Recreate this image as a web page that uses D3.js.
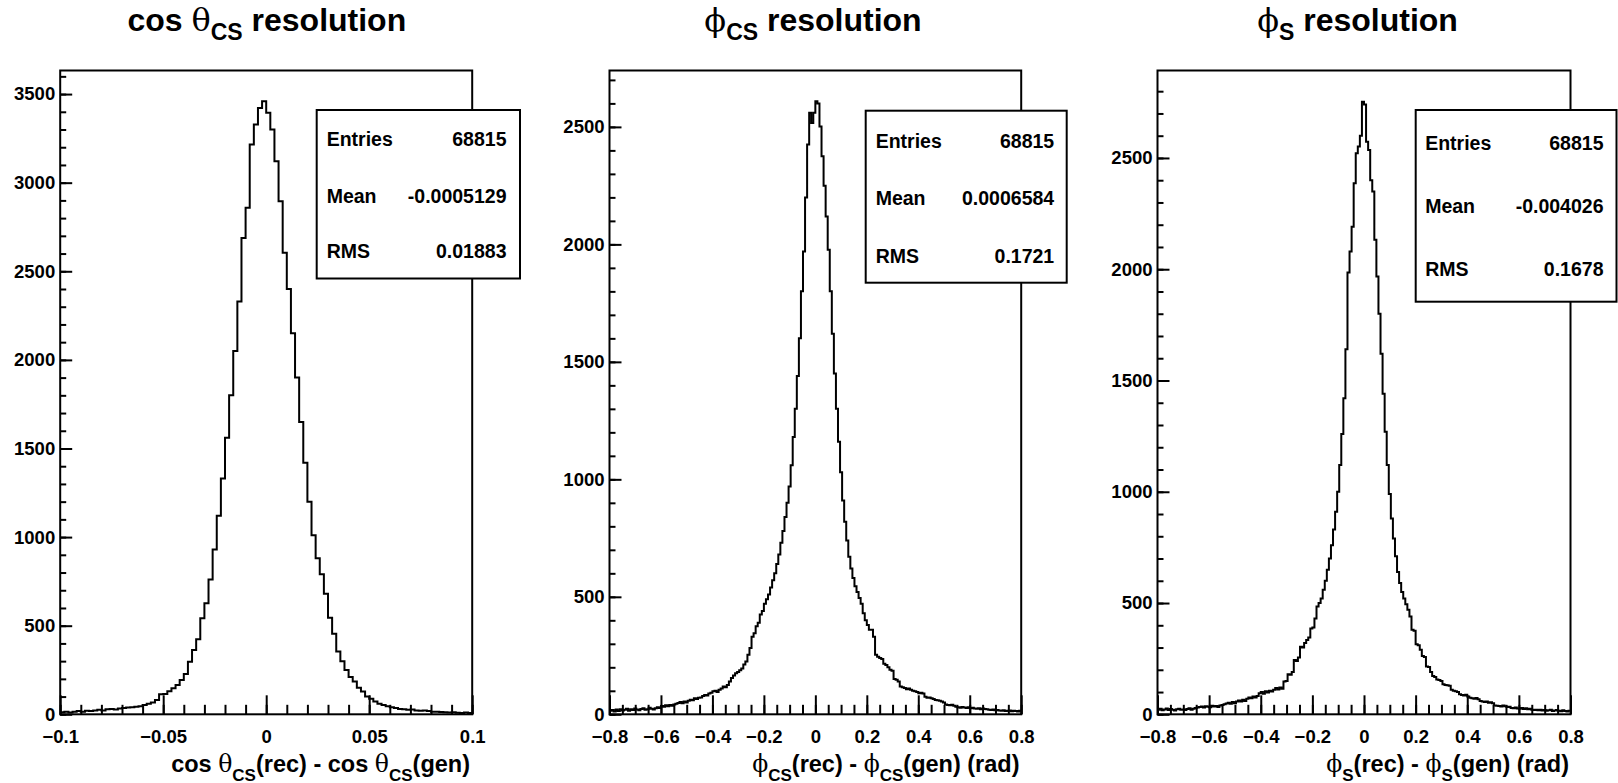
<!DOCTYPE html>
<html><head><meta charset="utf-8">
<script src="https://cdn.jsdelivr.net/npm/d3@7"></script>
<style>
body{margin:0;background:#fff}
svg{display:block}
text{font-family:"Liberation Sans",Arial,Helvetica,sans-serif;font-weight:bold;fill:#000}
</style>
</head><body>
<svg id="chart" width="1618" height="783"></svg>
<script>
// ---------------- data ----------------
const cosThetaRange = [-0.1, 0.1];
const cosThetaCounts = [
  12, 15, 10, 14, 18, 15, 20, 18, 22, 25,
  22, 28, 30, 27, 33, 36, 38, 40, 42, 45,
  53, 60, 66, 81, 113, 115, 130, 147, 166, 194,
  228, 297, 363, 424, 542, 627, 760, 930, 1120, 1330,
  1560, 1800, 2050, 2330, 2688, 2858, 3215, 3328, 3422, 3460,
  3394, 3300, 3121, 2895, 2604, 2400, 2150, 1900, 1650, 1420,
  1200, 1010, 880, 790, 680, 545, 455, 355, 300, 250,
  210, 185, 150, 128, 100, 88, 72, 60, 53, 45,
  40, 35, 30, 28, 26, 27, 22, 20, 21, 18,
  15, 14, 13, 12, 10, 11, 9, 8, 10, 7
];
const phiRange = [-0.8, 0.8];
const phiCSCounts = [
  15, 18, 12, 20, 14, 22, 16, 19, 24, 15,
  21, 18, 25, 20, 17, 23, 26, 19, 22, 28,
  24, 20, 26, 30, 27, 35, 32, 38, 34, 40,
  36, 42, 45, 48, 52, 47, 55, 50, 58, 62,
  60, 68, 65, 70, 72, 78, 82, 80, 88, 92,
  98, 100, 95, 105, 110, 118, 115, 125, 140, 154,
  165, 175, 180, 188, 195, 212, 225, 253, 282, 330,
  345, 375, 390, 425, 440, 470, 490, 510, 540, 570,
  600, 640, 680, 730, 780, 840, 900, 970, 1060, 1180,
  1300, 1440, 1600, 1800, 1970, 2200, 2425, 2560, 2517, 2560,
  2609, 2600, 2502, 2375, 2250, 2119, 1977, 1800, 1620, 1450,
  1300, 1160, 1030, 910, 820, 740, 670, 620, 580, 545,
  520, 495, 470, 430, 400, 380, 360, 360, 330, 253,
  245, 240, 235, 215, 210, 200, 190, 185, 150, 147,
  140, 118, 115, 112, 107, 110, 104, 100, 98, 95,
  90, 92, 88, 75, 70, 72, 68, 65, 61, 60,
  58, 55, 50, 42, 40, 38, 41, 36, 32, 30,
  28, 31, 29, 27, 30, 26, 28, 25, 24, 26,
  22, 25, 23, 21, 19, 18, 20, 17, 18, 16,
  15, 17, 14, 15, 16, 13, 15, 14, 12, 15
];
const phiSCounts = [
  20, 25, 18, 22, 26, 19, 24, 21, 17, 23,
  25, 20, 22, 19, 24, 27, 21, 25, 28, 30,
  33, 35, 31, 36, 34, 32, 38, 35, 37, 33,
  40, 42, 45, 48, 52, 47, 55, 50, 58, 62,
  57, 65, 60, 70, 75, 72, 80, 76, 82, 95,
  100, 92, 104, 98, 106, 102, 110, 118, 112, 120,
  115, 147, 150, 180, 178, 190, 244, 240, 255, 304,
  300, 320, 334, 345, 386, 390, 430, 484, 500, 520,
  560, 600, 650, 700, 760, 830, 910, 1000, 1120, 1260,
  1420, 1640, 1985, 2080, 2191, 2386, 2521, 2551, 2600, 2753,
  2740, 2573, 2536, 2400, 2349, 2132, 1967, 1800, 1620, 1440,
  1270, 1120, 990, 880, 790, 710, 640, 590, 550, 520,
  495, 470, 440, 380, 375, 315, 310, 290, 262, 258,
  215, 212, 190, 172, 168, 156, 154, 150, 135, 132,
  130, 128, 110, 106, 104, 100, 90, 87, 85, 88,
  80, 74, 72, 70, 73, 68, 60, 57, 55, 58,
  52, 54, 50, 40, 38, 37, 35, 39, 36, 33,
  34, 28, 27, 30, 26, 25, 28, 24, 27, 23,
  25, 20, 19, 21, 18, 20, 17, 19, 16, 18,
  20, 15, 17, 19, 16, 14, 18, 15, 13, 16
];
const cosThetaXTicks = [-0.1, -0.05, 0, 0.05, 0.1];
const phiXTicks = [-0.8, -0.6, -0.4, -0.2, 0, 0.2, 0.4, 0.6, 0.8];
const cosThetaYTicks = [0, 500, 1000, 1500, 2000, 2500, 3000, 3500];
const phiYTicks = [0, 500, 1000, 1500, 2000, 2500];
const statLabels = ["Entries", "Mean", "RMS"];
const cosThetaStats = ["68815", "-0.0005129", "0.01883"];
const phiCSStats = ["68815", "0.0006584", "0.1721"];
const phiSStats = ["68815", "-0.004026", "0.1678"];

// ---------------- layout ----------------
const panels = [
  { counts: cosThetaCounts, range: cosThetaRange, yMax: 3633, xTicks: cosThetaXTicks, xMinor: 0.01,
    yTicks: cosThetaYTicks, stats: cosThetaStats,
    frame: {x0: 60.2, x1: 472.2}, box: {x0: 316.7, x1: 520, y0: 110, y1: 278.5, base: [146, 203.3, 258.3], pl: 10, pr: 13.5},
    title: {cx: 266.8, parts: [["cos ", "b"], ["θ", "g"], ["CS", "sub"], [" resolution", "b"]]},
    xtitle: {x: 470, parts: [["cos ", "b"], ["θ", "g"], ["CS", "sub"], ["(rec) - cos ", "b"], ["θ", "g"], ["CS", "sub"], ["(gen)", "b"]]} },
  { counts: phiCSCounts, range: phiRange, yMax: 2740, xTicks: phiXTicks, xMinor: 0.05,
    yTicks: phiYTicks, stats: phiCSStats,
    frame: {x0: 609.5, x1: 1021.2}, box: {x0: 865.7, x1: 1066.7, y0: 110.7, y1: 282.7, base: [148.3, 205, 262.5], pl: 10, pr: 12.5},
    title: {cx: 813, parts: [["ϕ", "g"], ["CS", "sub"], [" resolution", "b"]]},
    xtitle: {x: 1019.5, parts: [["ϕ", "g"], ["CS", "sub"], ["(rec) - ", "b"], ["ϕ", "g"], ["CS", "sub"], ["(gen) (rad)", "b"]]} },
  { counts: phiSCounts, range: phiRange, yMax: 2893, xTicks: phiXTicks, xMinor: 0.05,
    yTicks: phiYTicks, stats: phiSStats,
    frame: {x0: 1157.5, x1: 1570.5}, box: {x0: 1415.7, x1: 1616.5, y0: 110, y1: 301.7, base: [150, 213.3, 276.3], pl: 9.5, pr: 13},
    title: {cx: 1357.5, parts: [["ϕ", "g"], ["S", "sub"], [" resolution", "b"]]},
    xtitle: {x: 1569, parts: [["ϕ", "g"], ["S", "sub"], ["(rec) - ", "b"], ["ϕ", "g"], ["S", "sub"], ["(gen) (rad)", "b"]]} }
];
const Y0 = 70.5, Y1 = 714.3;
const svg = d3.select("#chart");

function richText(sel, parts, size, subSize, subShift) {
  let shifted = false;
  parts.forEach(([t, kind]) => {
    const ts = sel.append("tspan").text(t);
    if (kind === "sub") {
      ts.attr("font-size", subSize).attr("dy", shifted ? 0 : subShift);
      shifted = true;
    } else {
      ts.attr("font-size", size).attr("dy", shifted ? -subShift : 0);
      shifted = false;
      if (kind === "g") ts.style("font-family", "'DejaVu Serif','Liberation Serif',serif").style("font-weight", "normal");
    }
  });
}

panels.forEach(p => {
  const g = svg.append("g");
  const x = d3.scaleLinear().domain(p.range).range([p.frame.x0, p.frame.x1]);
  const y = d3.scaleLinear().domain([0, p.yMax]).range([Y1, Y0]);
  const n = p.counts.length;
  const bw = (p.range[1] - p.range[0]) / n;

  // histogram outline
  const pts = p.counts.map((c, i) => [p.range[0] + i * bw, c]);
  pts.push([p.range[1], p.counts[n - 1]]);
  const line = d3.line().x(d => x(d[0])).y(d => y(d[1])).curve(d3.curveStepAfter);
  g.append("path").attr("d", line(pts)).attr("fill", "none").attr("stroke", "#000").attr("stroke-width", 2);

  // minor ticks
  const xMinorVals = d3.range(Math.round((p.range[1] - p.range[0]) / p.xMinor) + 1).map(k => p.range[0] + k * p.xMinor);
  const yMinorVals = d3.range(0, p.yMax, 100);
  g.append("g").attr("transform", `translate(0,${Y1})`)
    .call(d3.axisBottom(x).tickValues(xMinorVals).tickSize(-9.5).tickFormat(""))
    .call(a => a.select(".domain").remove())
    .call(a => a.selectAll("line").attr("stroke-width", 2));
  g.append("g").attr("transform", `translate(${p.frame.x0},0)`)
    .call(d3.axisLeft(y).tickValues(yMinorVals).tickSize(-6).tickFormat(""))
    .call(a => a.select(".domain").remove())
    .call(a => a.selectAll("line").attr("stroke-width", 2));

  // major ticks with labels
  g.append("g").attr("transform", `translate(0,${Y1})`)
    .call(d3.axisBottom(x).tickValues(p.xTicks).tickSize(-19).tickPadding(15.5).tickFormat(d3.format("")))
    .call(a => a.select(".domain").remove())
    .call(a => a.selectAll("line").attr("stroke-width", 2))
    .call(a => a.selectAll("text").attr("font-size", 18.5).attr("font-family", null));
  g.append("g").attr("transform", `translate(${p.frame.x0},0)`)
    .call(d3.axisLeft(y).tickValues(p.yTicks).tickSize(-12).tickPadding(5).tickFormat(d3.format("")))
    .call(a => a.select(".domain").remove())
    .call(a => a.selectAll("line").attr("stroke-width", 2))
    .call(a => a.selectAll("text").attr("font-size", 18.5).attr("font-family", null));

  // frame
  g.append("rect").attr("x", p.frame.x0).attr("y", Y0)
    .attr("width", p.frame.x1 - p.frame.x0).attr("height", Y1 - Y0)
    .attr("fill", "none").attr("stroke", "#000").attr("stroke-width", 2);

  // stats box
  const b = p.box;
  g.append("rect").attr("x", b.x0).attr("y", b.y0).attr("width", b.x1 - b.x0).attr("height", b.y1 - b.y0)
    .attr("fill", "#fff").attr("stroke", "#000").attr("stroke-width", 2);
  statLabels.forEach((lab, k) => {
    g.append("text").attr("x", b.x0 + b.pl).attr("y", b.base[k]).attr("font-size", 19.5).text(lab);
    g.append("text").attr("x", b.x1 - b.pr).attr("y", b.base[k]).attr("font-size", 19.5)
      .attr("text-anchor", "end").text(p.stats[k]);
  });

  // title
  const t = g.append("text").attr("x", p.title.cx).attr("y", 30.5).attr("text-anchor", "middle");
  richText(t, p.title.parts, 32, 23, 9);
  // x axis title
  const xt = g.append("text").attr("x", p.xtitle.x).attr("y", 772).attr("text-anchor", "end");
  richText(xt, p.xtitle.parts, 23.5, 17, 8.5);
});
</script>
</body></html>
